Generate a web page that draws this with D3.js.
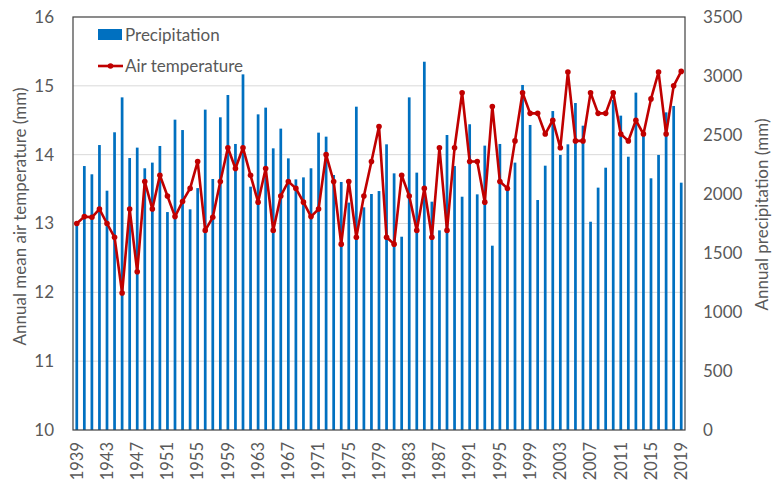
<!DOCTYPE html>
<html>
<head>
<meta charset="utf-8">
<script src="https://cdn.jsdelivr.net/npm/d3@7"></script>
<style>
  html, body { margin: 0; padding: 0; background: #fff; }
  svg { display: block; font-family: Lato, "Noto Sans", sans-serif; }
</style>
</head>
<body>
<svg id="chart" width="772" height="484"></svg>
<script>
const years = d3.range(1939, 2020);
const precipitation = [
  1765, 2237, 2167, 2415, 2028, 2523, 2819, 2305, 2393, 2218,
  2266, 2407, 1847, 2630, 2542, 1870, 2050, 2715, 2127, 2650,
  2839, 2424, 3014, 2062, 2675, 2732, 2387, 2554, 2302, 2124,
  2141, 2218, 2520, 2486, 2161, 2102, 1927, 2740, 1887, 2000,
  2025, 2421, 2175, 1638, 2819, 2181, 3121, 1935, 1692, 2500,
  2237, 1977, 2591, 1997, 2410, 1562, 2424, 2048, 2266, 2924,
  2585, 1949, 2240, 2703, 2331, 2421, 2771, 2579, 1765, 2054,
  2223, 2797, 2664, 2316, 2859, 2500, 2133, 2331, 2692, 2746,
  2096
];
const temperature = [
  13.00, 13.10, 13.09, 13.21, 13.00, 12.80, 11.99, 13.21, 12.30, 13.61,
  13.21, 13.70, 13.40, 13.10, 13.32, 13.51, 13.90, 12.90, 13.09, 13.61,
  14.10, 13.80, 14.10, 13.70, 13.31, 13.80, 12.90, 13.40, 13.61, 13.51,
  13.31, 13.10, 13.21, 14.00, 13.61, 12.70, 13.61, 12.80, 13.40, 13.90,
  14.41, 12.80, 12.70, 13.70, 13.40, 12.90, 13.51, 12.80, 14.10, 12.90,
  14.10, 14.90, 13.90, 13.90, 13.31, 14.70, 13.61, 13.51, 14.20, 14.90,
  14.60, 14.60, 14.30, 14.50, 14.10, 15.20, 14.20, 14.20, 14.90, 14.60,
  14.60, 14.90, 14.30, 14.20, 14.50, 14.30, 14.81, 15.20, 14.30, 15.00,
  15.21
];
const tempTicks = [10, 11, 12, 13, 14, 15, 16];
const precTicks = [0, 500, 1000, 1500, 2000, 2500, 3000, 3500];
const yearLabels = d3.range(1939, 2020, 4);

const W = 772, H = 484;
const m = { left: 73, right: 87, top: 17, bottom: 54 };
const svg = d3.select("#chart");
const txt = "#595959";

const x = d3.scaleBand().domain(years).range([m.left, W - m.right]).paddingInner(0.64).paddingOuter(0.32);
const yT = d3.scaleLinear().domain([10, 16]).range([H - m.bottom, m.top]);
const yP = d3.scaleLinear().domain([0, 3500]).range([H - m.bottom, m.top]);

// gridlines
svg.append("g").selectAll("line").data(tempTicks.filter(t => t > 10 && t < 16)).join("line")
  .attr("x1", m.left).attr("x2", W - m.right)
  .attr("y1", d => yT(d)).attr("y2", d => yT(d))
  .attr("stroke", "#d9d9d9").attr("stroke-width", 1);

// bars
svg.append("g").selectAll("rect").data(years).join("rect")
  .attr("x", d => x(d)).attr("width", x.bandwidth())
  .attr("y", (d, i) => yP(precipitation[i]))
  .attr("height", (d, i) => yP(0) - yP(precipitation[i]))
  .attr("fill", "#0070C0");

// line
const cx = d => x(d) + x.bandwidth() / 2;
const line = d3.line().x((d, i) => cx(years[i])).y(d => yT(d));
svg.append("path").datum(temperature)
  .attr("d", line).attr("fill", "none")
  .attr("stroke", "#C00000").attr("stroke-width", 2.6).attr("stroke-linejoin", "round");
svg.append("g").selectAll("circle").data(temperature).join("circle")
  .attr("cx", (d, i) => cx(years[i])).attr("cy", d => yT(d)).attr("r", 2.8)
  .attr("fill", "#C00000");

// frame
svg.append("rect").attr("x", m.left).attr("y", m.top)
  .attr("width", W - m.left - m.right).attr("height", H - m.top - m.bottom)
  .attr("fill", "none").attr("stroke", "#404040").attr("stroke-width", 1.2);

// left axis
const axL = d3.axisLeft(yT).tickValues(tempTicks).tickFormat(d3.format("d")).tickSize(0).tickPadding(19);
const gL = svg.append("g").attr("transform", `translate(${m.left},0)`).call(axL);
gL.select(".domain").remove();
gL.selectAll("text").attr("fill", txt).attr("font-size", 17).attr("font-family", "Lato, sans-serif");

// right axis
const axR = d3.axisRight(yP).tickValues(precTicks).tickFormat(d3.format("d")).tickSize(0).tickPadding(18);
const gR = svg.append("g").attr("transform", `translate(${W - m.right},0)`).call(axR);
gR.select(".domain").remove();
gR.selectAll("text").attr("fill", txt).attr("font-size", 17).attr("font-family", "Lato, sans-serif");

// bottom axis labels
const axB = d3.axisBottom(x).tickValues(yearLabels).tickSize(0).tickPadding(0);
const gB = svg.append("g").attr("transform", `translate(0,${H - m.bottom})`).call(axB);
gB.select(".domain").remove();
gB.selectAll("text")
  .attr("fill", txt).attr("font-size", 16.5).attr("font-family", "Lato, sans-serif")
  .attr("transform", "rotate(-90)")
  .attr("text-anchor", "end").attr("dy", "0.35em")
  .attr("x", -12).attr("y", 0);

// axis titles
svg.append("text")
  .attr("transform", `translate(26,${(m.top + H - m.bottom) / 2 - 7}) rotate(-90)`)
  .attr("text-anchor", "middle").attr("fill", txt).attr("font-size", 17)
  .text("Annual mean air temperature (mm)");
svg.append("text")
  .attr("transform", `translate(768,${(m.top + H - m.bottom) / 2 - 9}) rotate(-90)`)
  .attr("text-anchor", "middle").attr("fill", txt).attr("font-size", 17)
  .text("Annual precipitation (mm)");

// legend
const lg = svg.append("g");
lg.append("rect").attr("x", 98).attr("y", 29).attr("width", 24).attr("height", 11).attr("fill", "#0070C0");
lg.append("text").attr("x", 125).attr("y", 35).attr("dy", "0.35em").attr("fill", txt).attr("font-size", 17).text("Precipitation");
lg.append("line").attr("x1", 98).attr("x2", 123).attr("y1", 66).attr("y2", 66).attr("stroke", "#C00000").attr("stroke-width", 2.6);
lg.append("circle").attr("cx", 110.5).attr("cy", 66).attr("r", 2.8).attr("fill", "#C00000");
lg.append("text").attr("x", 125).attr("y", 66).attr("dy", "0.35em").attr("fill", txt).attr("font-size", 17).text("Air temperature");
</script>
</body>
</html>
